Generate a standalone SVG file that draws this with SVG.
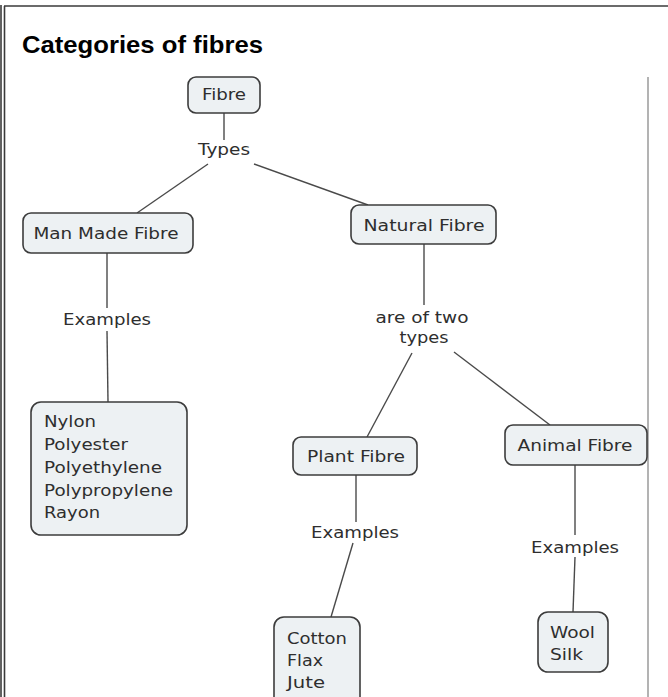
<svg xmlns="http://www.w3.org/2000/svg" width="668" height="697" viewBox="0 0 668 697">
<style>
.box{fill:#edf1f3;stroke:#3c3c3c;stroke-width:1.6}
.t{font-family:"DejaVu Sans",Verdana,sans-serif;font-size:16px;fill:#2e2e2e}
.c{text-anchor:middle}
.ln{stroke:#4a4a4a;stroke-width:1.4;fill:none}
.frame{stroke:#3a3a3a;stroke-width:1.6;fill:none}
</style>
<rect width="668" height="697" fill="#ffffff"/>
<g id="frame">
<line class="frame" x1="1" y1="5" x2="1" y2="697"/>
<line class="frame" x1="4.5" y1="6" x2="4.5" y2="697"/>
<line class="frame" x1="4" y1="6" x2="668" y2="6"/>
<line x1="648" y1="77" x2="648" y2="697" stroke="#9a9a9a" stroke-width="1.5"/>
</g>
<text id="title" x="22" y="53" font-family="'Liberation Sans',Arial,sans-serif" font-weight="bold" font-size="24" fill="#000" textLength="241" lengthAdjust="spacingAndGlyphs">Categories of fibres</text>
<g id="connectors">
<line class="ln" x1="224" y1="113" x2="224" y2="140"/>
<line class="ln" x1="208" y1="164" x2="137" y2="213"/>
<line class="ln" x1="254" y1="164" x2="368" y2="205"/>
<line class="ln" x1="107" y1="253" x2="107" y2="308"/>
<line class="ln" x1="107" y1="331" x2="108" y2="402"/>
<line class="ln" x1="424" y1="244" x2="424" y2="305"/>
<line class="ln" x1="412" y1="353" x2="367" y2="437"/>
<line class="ln" x1="454" y1="352" x2="550" y2="425"/>
<line class="ln" x1="356" y1="475" x2="356" y2="522"/>
<line class="ln" x1="353" y1="543" x2="331" y2="617"/>
<line class="ln" x1="575" y1="465" x2="575" y2="535"/>
<line class="ln" x1="575" y1="557" x2="573" y2="612"/>
</g>
<g id="n-fibre">
<rect class="box" x="188" y="77" width="72" height="36" rx="8"/>
<text class="t c" x="224" y="100" textLength="44" lengthAdjust="spacingAndGlyphs">Fibre</text>
</g>
<g id="l-types">
<text class="t c" x="224" y="155" textLength="52" lengthAdjust="spacingAndGlyphs">Types</text>
</g>
<g id="n-manmade">
<rect class="box" x="23" y="213" width="170" height="40" rx="8"/>
<text class="t c" x="106" y="239" textLength="145" lengthAdjust="spacingAndGlyphs">Man Made Fibre</text>
</g>
<g id="n-natural">
<rect class="box" x="351" y="205" width="145" height="39" rx="8"/>
<text class="t c" x="424" y="231" textLength="121" lengthAdjust="spacingAndGlyphs">Natural Fibre</text>
</g>
<g id="l-examples1">
<text class="t c" x="107" y="325" textLength="88" lengthAdjust="spacingAndGlyphs">Examples</text>
</g>
<g id="l-twotypes">
<text class="t c" x="422" y="323" textLength="93" lengthAdjust="spacingAndGlyphs">are of two</text>
<text class="t c" x="424" y="343" textLength="49" lengthAdjust="spacingAndGlyphs">types</text>
</g>
<g id="n-manmade-ex">
<rect class="box" x="31" y="402" width="156" height="133" rx="10"/>
<text class="t" x="44" y="427" textLength="52" lengthAdjust="spacingAndGlyphs">Nylon</text>
<text class="t" x="44" y="450" textLength="84" lengthAdjust="spacingAndGlyphs">Polyester</text>
<text class="t" x="44" y="473" textLength="118" lengthAdjust="spacingAndGlyphs">Polyethylene</text>
<text class="t" x="44" y="496" textLength="129" lengthAdjust="spacingAndGlyphs">Polypropylene</text>
<text class="t" x="44" y="518" textLength="56" lengthAdjust="spacingAndGlyphs">Rayon</text>
</g>
<g id="n-plant">
<rect class="box" x="293" y="437" width="124" height="38" rx="8"/>
<text class="t c" x="356" y="462" textLength="98" lengthAdjust="spacingAndGlyphs">Plant Fibre</text>
</g>
<g id="n-animal">
<rect class="box" x="505" y="425" width="142" height="40" rx="8"/>
<text class="t c" x="575" y="451" textLength="115" lengthAdjust="spacingAndGlyphs">Animal Fibre</text>
</g>
<g id="l-examples2">
<text class="t c" x="355" y="538" textLength="88" lengthAdjust="spacingAndGlyphs">Examples</text>
</g>
<g id="l-examples3">
<text class="t c" x="575" y="553" textLength="88" lengthAdjust="spacingAndGlyphs">Examples</text>
</g>
<g id="n-plant-ex">
<rect class="box" x="274" y="617" width="86" height="95" rx="10"/>
<text class="t" x="287" y="644" textLength="60" lengthAdjust="spacingAndGlyphs">Cotton</text>
<text class="t" x="287" y="666" textLength="36" lengthAdjust="spacingAndGlyphs">Flax</text>
<text class="t" x="287" y="688" textLength="38" lengthAdjust="spacingAndGlyphs">Jute</text>
</g>
<g id="n-animal-ex">
<rect class="box" x="538" y="612" width="70" height="60" rx="10"/>
<text class="t" x="550" y="638" textLength="45" lengthAdjust="spacingAndGlyphs">Wool</text>
<text class="t" x="550" y="660" textLength="33" lengthAdjust="spacingAndGlyphs">Silk</text>
</g>
</svg>
